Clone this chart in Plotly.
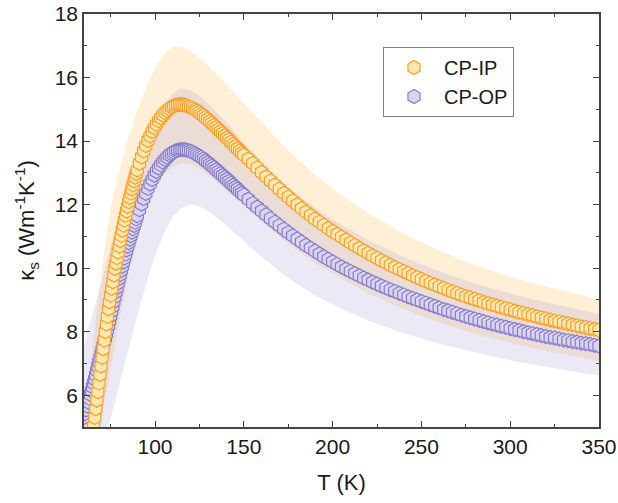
import plotly.graph_objects as go

# Temperature sampling grid of the markers (K): finer at low T, coarser at high T
T = ([round(60 + 0.6 * i, 1) for i in range(51)]
     + [round(90 + 1.2 * j, 1) for j in range(1, 51)]
     + [round(150 + 2.5 * k, 1) for k in range(1, 81)])

cp_ip = [
    # 60.0 .. 90.0 (step 0.6)
    2.9, 3.1, 3.3, 3.5, 3.75, 4.0, 4.25, 4.5, 4.75, 5.03, 5.3, 5.57, 5.84, 6.11, 6.38, 6.65, 6.92,
    7.19, 7.46, 7.73, 8.0, 8.24, 8.48, 8.72, 8.94, 9.15, 9.36, 9.57, 9.78, 9.99, 10.15, 10.33,
    10.51, 10.69, 10.86, 11.03, 11.19, 11.35, 11.51, 11.66, 11.8, 11.94, 12.09, 12.22, 12.36,
    12.49, 12.62, 12.74, 12.86, 12.98, 13.09,
    # 91.2 .. 150.0 (step 1.2)
    13.3, 13.5, 13.69, 13.86, 14.02, 14.16, 14.3, 14.42, 14.53, 14.64, 14.73, 14.82, 14.9, 14.96,
    15.02, 15.07, 15.1, 15.13, 15.14, 15.15, 15.15, 15.14, 15.12, 15.09, 15.07, 15.03, 14.99,
    14.95, 14.9, 14.85, 14.8, 14.74, 14.68, 14.62, 14.56, 14.49, 14.43, 14.37, 14.3, 14.24, 14.17,
    14.1, 14.04, 13.97, 13.9, 13.83, 13.76, 13.69, 13.62, 13.56,
    # 152.5 .. 350 (step 2.5)
    13.44, 13.3, 13.16, 13.02, 12.88, 12.75, 12.62, 12.49, 12.36, 12.24, 12.12, 12.0, 11.88,
    11.77, 11.66, 11.55, 11.45, 11.35, 11.25, 11.16, 11.07, 10.98, 10.89, 10.8, 10.72, 10.63,
    10.55, 10.47, 10.39, 10.32, 10.24, 10.17, 10.1, 10.03, 9.96, 9.9, 9.84, 9.77, 9.71, 9.65,
    9.59, 9.53, 9.48, 9.42, 9.37, 9.31, 9.26, 9.21, 9.16, 9.11, 9.07, 9.02, 8.98, 8.93, 8.89,
    8.85, 8.81, 8.77, 8.73, 8.69, 8.65, 8.61, 8.58, 8.54, 8.51, 8.47, 8.44, 8.41, 8.37, 8.34,
    8.31, 8.28, 8.25, 8.22, 8.19, 8.16, 8.13, 8.1, 8.08, 8.05]

cp_op = [
    # 60.0 .. 90.0
    5.3, 5.42, 5.54, 5.66, 5.78, 5.9, 6.02, 6.14, 6.26, 6.38, 6.5, 6.63, 6.77, 6.9, 7.04, 7.17,
    7.3, 7.43, 7.56, 7.68, 7.8, 7.93, 8.07, 8.2, 8.35, 8.5, 8.65, 8.8, 8.95, 9.1, 9.25, 9.39,
    9.53, 9.67, 9.8, 9.93, 10.06, 10.19, 10.32, 10.44, 10.57, 10.69, 10.8, 10.91, 11.02, 11.13,
    11.24, 11.34, 11.44, 11.55, 11.65,
    # 91.2 .. 150.0
    11.84, 12.02, 12.19, 12.35, 12.51, 12.65, 12.79, 12.92, 13.04, 13.15, 13.25, 13.34, 13.42,
    13.49, 13.56, 13.61, 13.65, 13.69, 13.71, 13.73, 13.73, 13.73, 13.72, 13.7, 13.68, 13.65,
    13.61, 13.57, 13.53, 13.49, 13.44, 13.38, 13.33, 13.27, 13.22, 13.16, 13.1, 13.04, 12.98,
    12.92, 12.86, 12.8, 12.74, 12.67, 12.61, 12.55, 12.49, 12.42, 12.36, 12.3,
    # 152.5 .. 350
    12.17, 12.04, 11.92, 11.8, 11.68, 11.56, 11.45, 11.34, 11.23, 11.12, 11.02, 10.92, 10.82,
    10.72, 10.63, 10.54, 10.45, 10.36, 10.28, 10.2, 10.12, 10.04, 9.97, 9.9, 9.83, 9.76, 9.69,
    9.63, 9.56, 9.5, 9.44, 9.38, 9.32, 9.27, 9.21, 9.16, 9.1, 9.05, 9.0, 8.95, 8.9, 8.85, 8.8,
    8.75, 8.7, 8.66, 8.61, 8.57, 8.52, 8.48, 8.44, 8.4, 8.36, 8.32, 8.28, 8.24, 8.21, 8.17, 8.14,
    8.1, 8.07, 8.04, 8.0, 7.97, 7.94, 7.91, 7.88, 7.85, 7.82, 7.8, 7.77, 7.74, 7.72, 7.69, 7.67,
    7.64, 7.62, 7.6, 7.57, 7.55]

# Uncertainty bands
ip_up_T = [60, 62, 64, 66, 68, 70, 72, 75, 78, 81, 84, 87, 90, 95, 100, 105, 110, 115, 120, 125, 130,
           140, 150, 160, 170, 180, 190, 200, 220, 240, 260, 280, 300, 320, 340, 350]
ip_up = [5.5, 6.3, 7.2, 8.1, 9.0, 10.0, 10.8, 11.9, 12.65, 13.3, 13.9, 14.45, 14.95, 15.7, 16.3, 16.72,
         16.98, 16.97, 16.82, 16.62, 16.38, 15.8, 15.2, 14.58, 13.99, 13.44, 12.94, 12.5, 11.73, 11.09,
         10.55, 10.1, 9.73, 9.42, 9.14, 9.02]
ip_lo_T = [60, 65, 70, 75, 80, 85, 90, 95, 100, 105, 110, 115, 120, 125, 130, 140, 150, 160, 170, 180,
           190, 200, 220, 240, 260, 280, 300, 320, 340, 350]
ip_lo = [3.0, 3.8, 5.2, 6.8, 8.4, 9.8, 11.0, 11.9, 12.55, 12.95, 13.2, 13.3, 13.28, 13.13, 12.93, 12.45,
         11.95, 11.46, 10.99, 10.56, 10.16, 9.82, 9.21, 8.71, 8.29, 7.94, 7.65, 7.4, 7.18, 7.08]

op_up_T = [60, 65, 70, 75, 80, 85, 90, 95, 100, 105, 110, 115, 120, 125, 130, 140, 150, 160, 170, 180,
           190, 200, 220, 240, 260, 280, 300, 320, 340, 350]
op_up = [7.6, 8.6, 9.6, 10.7, 11.7, 12.6, 13.4, 14.1, 14.7, 15.15, 15.5, 15.66, 15.6, 15.42, 15.18, 14.6,
         13.95, 13.35, 12.8, 12.33, 11.9, 11.52, 10.88, 10.35, 9.9, 9.52, 9.2, 8.93, 8.68, 8.56]
op_lo_T = [60, 70, 75, 80, 85, 90, 95, 100, 105, 110, 115, 120, 125, 130, 140, 150, 160, 170, 180, 190,
           200, 220, 240, 260, 280, 300, 320, 340, 350]
op_lo = [3.0, 4.2, 5.2, 6.3, 7.4, 8.5, 9.5, 10.4, 11.1, 11.6, 11.9, 12.0, 11.95, 11.8, 11.35, 10.85,
         10.35, 9.9, 9.5, 9.15, 8.85, 8.35, 7.95, 7.62, 7.35, 7.1, 6.9, 6.7, 6.62]

x_ticks = [100, 150, 200, 250, 300, 350]
y_ticks = [6, 8, 10, 12, 14, 16, 18]

FONT = "Liberation Sans, Arial, sans-serif"
TXT = "#1a1a1a"

fig = go.Figure()

fig.add_trace(go.Scatter(
    x=ip_up_T + ip_lo_T[::-1], y=ip_up + ip_lo[::-1], fill="toself",
    fillcolor="rgba(255,204,128,0.32)", line=dict(width=0), mode="lines",
    showlegend=False, hoverinfo="skip"))
fig.add_trace(go.Scatter(
    x=op_up_T + op_lo_T[::-1], y=op_up + op_lo[::-1], fill="toself",
    fillcolor="rgba(165,155,210,0.22)", line=dict(width=0), mode="lines",
    showlegend=False, hoverinfo="skip"))

fig.add_trace(go.Scatter(
    x=T, y=cp_op, mode="markers", name="CP-OP", legendrank=2,
    marker=dict(symbol="hexagon", size=14, color="#D9D5EF",
                line=dict(color="#877CCB", width=1.2))))
fig.add_trace(go.Scatter(
    x=T, y=cp_ip, mode="markers", name="CP-IP", legendrank=1,
    marker=dict(symbol="hexagon", size=14, color="#FFE8AE",
                line=dict(color="#FF9E2C", width=1.2))))

axis_common = dict(
    showline=True, linecolor="#444", linewidth=1.5, mirror="ticks",
    ticks="inside", ticklen=6, tickwidth=1.3, tickcolor="#444",
    showgrid=False, zeroline=False, automargin=False,
    tickfont=dict(family=FONT, size=21, color=TXT),
)

fig.update_xaxes(range=[60, 350], tickvals=x_ticks,
                 minor=dict(dtick=25, tick0=0, ticks="inside", ticklen=3.5, tickcolor="#444"),
                 title=dict(text="T (K)", font=dict(family=FONT, size=22, color=TXT), standoff=18),
                 **axis_common)
fig.update_yaxes(range=[5, 18], tickvals=y_ticks,
                 minor=dict(dtick=1, tick0=0, ticks="inside", ticklen=3.5, tickcolor="#444"),
                 title=dict(text="κ<sub>s</sub> (Wm<sup>-1</sup>K<sup>-1</sup>)",
                            font=dict(family=FONT, size=22, color=TXT), standoff=14),
                 **axis_common)

fig.update_layout(
    width=618, height=503,
    margin=dict(l=84, r=19, t=14, b=76),
    paper_bgcolor="white", plot_bgcolor="white",
    legend=dict(x=0.5806, y=0.92, xanchor="left", yanchor="top",
                bordercolor="#808080", borderwidth=1, bgcolor="white",
                itemwidth=50, font=dict(family=FONT, size=20, color=TXT),
                tracegroupgap=0),
    showlegend=True,
)

fig.write_html("out.html", config={"displayModeBar": False},
               post_script="document.body.style.margin='0';")
